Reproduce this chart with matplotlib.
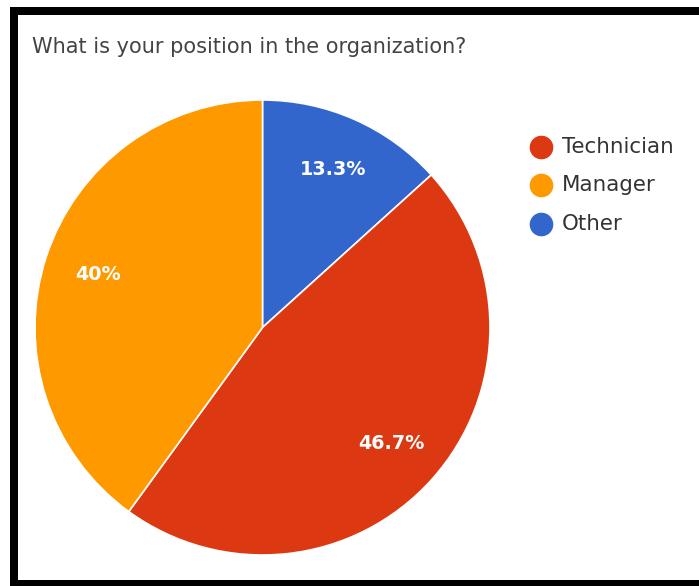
import matplotlib
matplotlib.use("Agg")
import matplotlib.pyplot as plt
from matplotlib.patches import Rectangle
from matplotlib.lines import Line2D

plt.rcParams['font.family'] = ['DejaVu Sans']

title = "What is your position in the organization?"
categories = ["Technician", "Manager", "Other"]
shares = [46.7, 40.0, 13.3]
colors = ["#dc3912", "#ff9900", "#3366cc"]

# Clockwise from 12 o'clock: Other, Technician, Manager
draw_order = [2, 0, 1]

W, H = 699, 586
fig = plt.figure(figsize=(W / 100, H / 100), dpi=100)
fig.patch.set_facecolor("white")

def fx(x):
    return x / W

def fy(y):
    return 1 - y / H

# frame around the chart
for (x, y, w, h) in [(10, 7, 689, 8), (10, 7, 8, 579), (10, 580, 689, 6)]:
    fig.patches.append(Rectangle((fx(x), fy(y + h)), w / W, h / H,
                                 transform=fig.transFigure, facecolor="black",
                                 edgecolor="none", zorder=5))

fig.text(fx(32), fy(47), title, fontsize=15, color="#444444",
         va="center", ha="left")

cx, cy, r = 262.5, 327.5, 227.5
ax = fig.add_axes([fx(cx - r), fy(cy + r), 2 * r / W, 2 * r / H])
vals = [shares[i] for i in draw_order]
cols = [colors[i] for i in draw_order]
wedges, texts, autotexts = ax.pie(
    vals, colors=cols, startangle=90, counterclock=False, radius=1,
    autopct=lambda p: f"{p:.1f}%".replace(".0%", "%"), pctdistance=0.76,
    wedgeprops=dict(edgecolor="white", linewidth=1.2),
    textprops=dict(color="white", fontsize=13.8, fontweight="bold"))
ax.set_xlim(-1, 1)
ax.set_ylim(-1, 1)
ax.set_aspect("equal")
ax.axis("off")

# legend: one coloured dot and label per category
row_y = [147, 185, 224]
for name, col, y in zip(categories, colors, row_y):
    fig.add_artist(Line2D([fx(541)], [fy(y)], transform=fig.transFigure,
                          marker="o", linestyle="none", markersize=16,
                          markerfacecolor=col, markeredgecolor=col))
    fig.text(fx(562), fy(y), name, fontsize=15.4, color="#333333",
             va="center", ha="left")

fig.savefig("out.png", dpi=100)
